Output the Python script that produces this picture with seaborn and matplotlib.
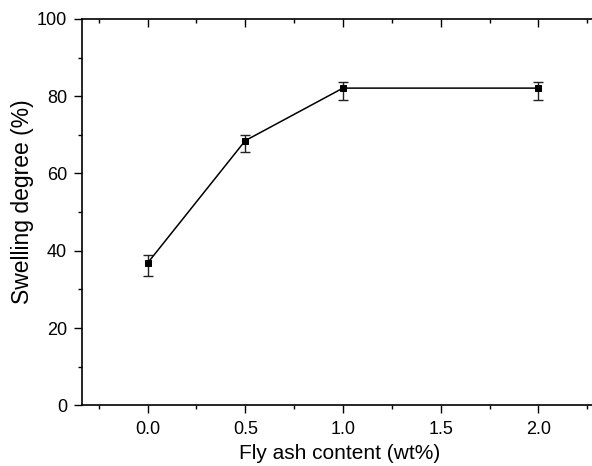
import matplotlib
matplotlib.use("Agg")
import matplotlib.pyplot as plt
import numpy as np
import pandas as pd
import seaborn as sns
from matplotlib.ticker import MultipleLocator

# === Данные ===
fly_ash = [0.0, 0.5, 1.0, 2.0]
swelling = [36.8, 68.5, 82.1, 82.1]
err_upper = [2.1, 1.4, 1.6, 1.6]
err_lower = [3.3, 2.9, 3.2, 3.2]

df = pd.DataFrame({"fly_ash": fly_ash, "swelling": swelling})

sns.set_style("ticks")
plt.rcParams["font.family"] = ["Liberation Sans", "DejaVu Sans"]
plt.rcParams["text.color"] = "black"
plt.rcParams["axes.labelcolor"] = "black"
plt.rcParams["xtick.color"] = "black"
plt.rcParams["ytick.color"] = "black"

fig = plt.figure(figsize=(5.92, 4.66), dpi=100)
ax = fig.add_axes([0.139, 0.1303, 0.8694, 0.829])

_ = ax.errorbar(fly_ash, swelling, yerr=[err_lower, err_upper], fmt="none",
                ecolor="#222222", elinewidth=1.0, capsize=3.5, capthick=1.0, zorder=2)
_ = sns.lineplot(data=df, x="fly_ash", y="swelling", ax=ax, color="black",
                 linewidth=1.1, marker="s", markersize=4.5, markeredgecolor="black",
                 zorder=3)

ax.set_xlim(-0.334, 2.3)
ax.set_ylim(0, 100)
ax.xaxis.set_major_locator(MultipleLocator(0.5))
ax.xaxis.set_minor_locator(MultipleLocator(0.25))
ax.yaxis.set_major_locator(MultipleLocator(20))
ax.yaxis.set_minor_locator(MultipleLocator(10))
ax.xaxis.set_major_formatter(matplotlib.ticker.FormatStrFormatter("%.1f"))

ax.tick_params(which="major", direction="out", length=6, width=1, labelsize=13,
               color="black", labelcolor="black", pad=5)
ax.tick_params(which="minor", direction="out", length=3, width=1, color="black")
ax.spines["right"].set_visible(False)
ax.spines["top"].set_visible(False)
for s in ["left", "bottom"]:
    ax.spines[s].set_linewidth(1.2)
    ax.spines[s].set_color("black")

top = ax.secondary_xaxis("top")
top.xaxis.set_major_locator(MultipleLocator(0.5))
top.xaxis.set_minor_locator(MultipleLocator(0.25))
top.tick_params(which="major", direction="in", length=6, width=1, labeltop=False, color="black")
top.tick_params(which="minor", direction="in", length=3, width=1, color="black")
top.spines["top"].set_linewidth(1.2)
top.spines["top"].set_color("black")

ax.set_xlabel("Fly ash content (wt%)", fontsize=15, va="baseline", color="black")
ax.set_ylabel("Swelling degree (%)", fontsize=16.5, color="black")
ax.xaxis.set_label_coords(0.5, -0.139)
ax.yaxis.set_label_coords(-0.0938, 0.526)

fig.savefig("out.png", dpi=100)
